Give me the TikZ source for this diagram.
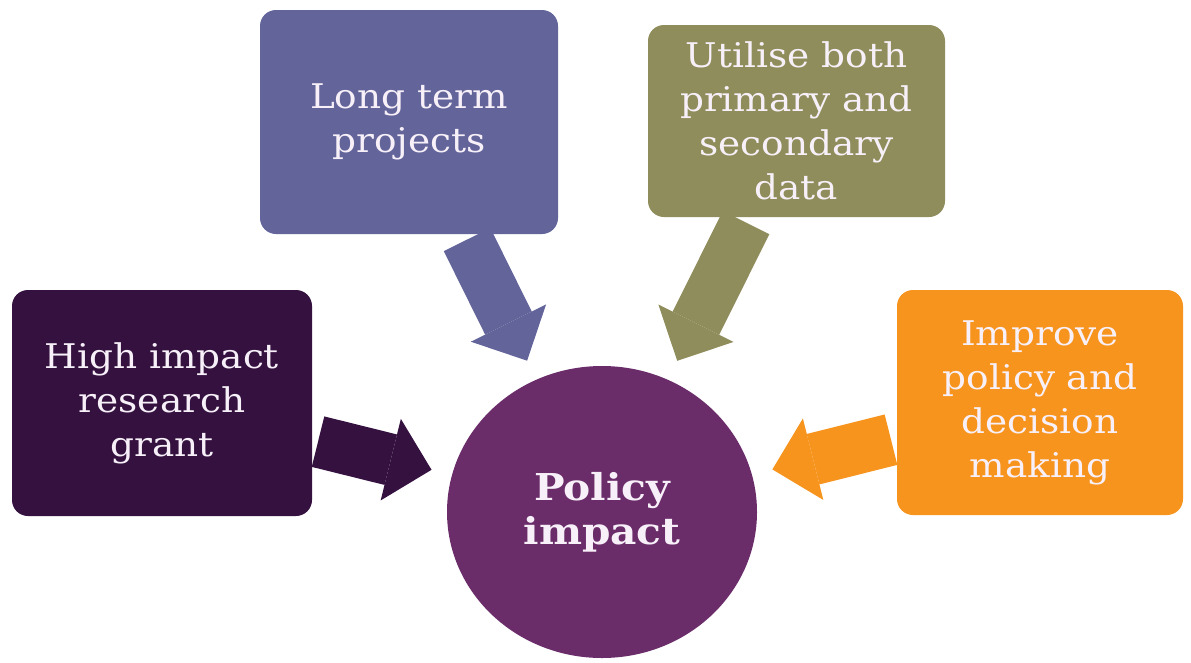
\documentclass[tikz,border=0pt]{standalone}
\usepackage{fontspec}
\setmainfont{DejaVu Serif}[FakeStretch=1.1]
\usetikzlibrary{arrows.meta,shapes.geometric}
\definecolor{cDark}{HTML}{34113F}
\definecolor{cSlate}{HTML}{62649A}
\definecolor{cOlive}{HTML}{8E8D5B}
\definecolor{cOrange}{HTML}{F7941E}
\definecolor{cCircle}{HTML}{6B2C6A}
\definecolor{txt}{HTML}{F7F0F8}
\begin{document}
\begin{tikzpicture}[x=1pt,y=-1pt,
  box/.style={rectangle, rounded corners=16pt, align=center, text=txt, inner sep=0pt,
    font=\fontsize{34}{44}\selectfont},
  hub/.style={ellipse, fill=cCircle, minimum width=310pt, minimum height=292pt, inner sep=0pt,
    align=center, text=txt, font=\fontsize{37}{44}\selectfont\bfseries},
  link/.style={line width=52pt, -{Triangle[width=84pt,length=42pt,line width=0pt]},
    shorten <=6pt, shorten >=21pt}]
\useasboundingbox[fill=white] (0,0) rectangle (1191,662);
\node[hub] (pi) at (602,512) {Policy\\impact};
\node[box, fill=cDark, minimum width=300pt, minimum height=226pt] (hi) at (162,403) {High impact\\research\\grant};
\node[box, fill=cSlate, minimum width=298pt, minimum height=224pt] (lt) at (409,122) {Long term\\projects};
\node[box, fill=cOlive, minimum width=297pt, minimum height=192pt] (ut) at (796.5,121) {Utilise both\\primary and\\secondary\\data};
\node[box, fill=cOrange, minimum width=286pt, minimum height=225pt] (im) at (1040,402.5) {Improve\\policy and\\decision\\making};
\draw[link, cDark] (hi) -- (pi);
\draw[link, cSlate] (lt) -- (pi);
\draw[link, cOlive] (ut) -- (pi);
\draw[link, cOrange] (im) -- (pi);
\end{tikzpicture}
\end{document}
